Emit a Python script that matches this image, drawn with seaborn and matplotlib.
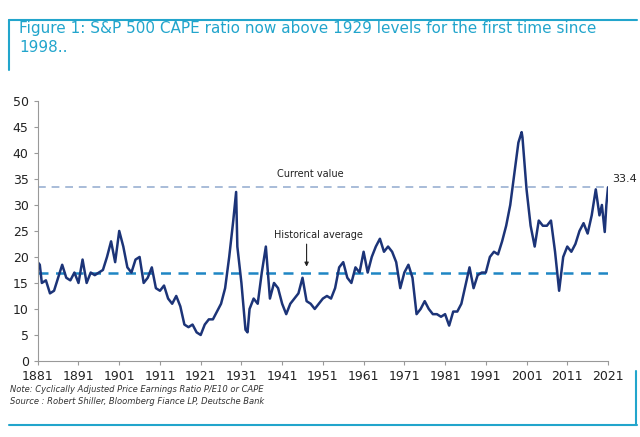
import matplotlib
matplotlib.use("Agg")
import matplotlib.pyplot as plt
import seaborn as sns
import pandas as pd

years = [1881,1881.5,1882,1883,1884,1885,1886,1887,1888,1889,1890,1891,1892,1893,1894,1895,1896,1897,1898,1899,1900,1901,1902,1903,1904,1905,1906,1907,1908,1909,1910,1911,1912,1913,1914,1915,1916,1917,1918,1919,1920,1921,1922,1923,1924,1925,1926,1927,1928,1929,1929.7,1930,1931,1932,1932.5,1933,1934,1935,1936,1937,1938,1939,1940,1941,1942,1943,1944,1945,1946,1947,1948,1949,1950,1951,1952,1953,1954,1955,1956,1957,1958,1959,1960,1961,1962,1963,1964,1965,1966,1967,1968,1969,1970,1971,1972,1973,1974,1975,1976,1977,1978,1979,1980,1981,1982,1983,1984,1985,1986,1987,1988,1989,1990,1991,1992,1993,1994,1995,1996,1997,1998,1999,1999.8,2000,2001,2002,2003,2004,2005,2006,2007,2008,2009,2010,2011,2012,2013,2014,2015,2016,2017,2018,2018.9,2019.5,2020.2,2020.6,2021]
cape = [19,18.5,15,15.5,13,13.5,16,18.5,16,15.5,17,15,19.5,15,17,16.5,17,17.5,20,23,19,25,22,18,17,19.5,20,15,16,18,14,13.5,14.5,12,11,12.5,10.5,7,6.5,7,5.5,5,7,8,8,9.5,11,14,20,27,32.5,22,15,6,5.5,10,12,11,17,22,12,15,14,11,9,11,12,13,16,11.5,11,10,11,12,12.5,12,14,18,19,16,15,18,17,21,17,20,22,23.5,21,22,21,19,14,17,18.5,16,9,10,11.5,10,9,9,8.5,9,6.8,9.5,9.5,11,14.5,18,14,16.5,17,17,20,21,20.5,23,26,30,36,42,44,43,33,26,22,27,26,26,27,21,13.5,20,22,21,22.5,25,26.5,24.5,28,33,28,30,24.8,30,33.4]
hist_avg = 17.0
current = 33.4
x_ticks = list(range(1881, 2022, 10))
teal = "#22a5cc"

df = pd.DataFrame({"year": years, "cape": cape})
sns.set_style("white")
fig = plt.figure(figsize=(6.4, 4.37), dpi=100)
ax = fig.add_axes([0.059, 0.174, 0.891, 0.595])
ax.axhline(current, color="#a8bcd8", ls=(0, (4, 3)), lw=1.4)
ax.axhline(hist_avg, color="#1f86c4", ls=(0, (4, 3)), lw=1.8)
sns.lineplot(data=df, x="year", y="cape", ax=ax, color="#1c3478", lw=1.8)
ax.set_xlim(1881, 2021)
ax.set_ylim(0, 50)
ax.set_xticks(x_ticks)
ax.set_yticks(range(0, 51, 5))
ax.set_xlabel(""); ax.set_ylabel("")
for s in ["top", "right"]:
    ax.spines[s].set_visible(False)
for s in ["left", "bottom"]:
    ax.spines[s].set_color("#999999")
ax.tick_params(axis="both", labelsize=9, colors="#222222", length=3, direction="out", left=True, bottom=True)
ax.tick_params(axis="both", color="#999999")
ax.text(1948, 35.3, "Current value", fontsize=7, ha="center", color="#222222")
ax.text(2022, 34.5, "33.4", fontsize=8, ha="left", color="#222222")
ax.text(1950, 23.7, "Historical average", fontsize=7, ha="center", color="#222222")
ax.annotate("", xy=(1947, 17.6), xytext=(1947, 23.0),
            arrowprops=dict(arrowstyle="-|>", color="#222222", lw=0.8, mutation_scale=6))

fig.text(0.03, 0.875, "Figure 1: S&P 500 CAPE ratio now above 1929 levels for the first time since\n1998..",
         color=teal, fontsize=11, va="bottom", linespacing=1.3)
fig.add_artist(plt.Line2D([0.014, 0.995], [0.955, 0.955], color=teal, lw=1.5))
fig.add_artist(plt.Line2D([0.014, 0.014], [0.955, 0.84], color=teal, lw=1.5))
fig.add_artist(plt.Line2D([0.014, 0.995], [0.028, 0.028], color=teal, lw=1.5))
fig.add_artist(plt.Line2D([0.993, 0.993], [0.028, 0.15], color=teal, lw=1.5))
fig.text(0.016, 0.095, "Note: Cyclically Adjusted Price Earnings Ratio P/E10 or CAPE\nSource : Robert Shiller, Bloomberg Fiance LP, Deutsche Bank",
         fontsize=6, style="italic", color="#333333", va="center", linespacing=1.3)
fig.savefig("out.png", dpi=100)
